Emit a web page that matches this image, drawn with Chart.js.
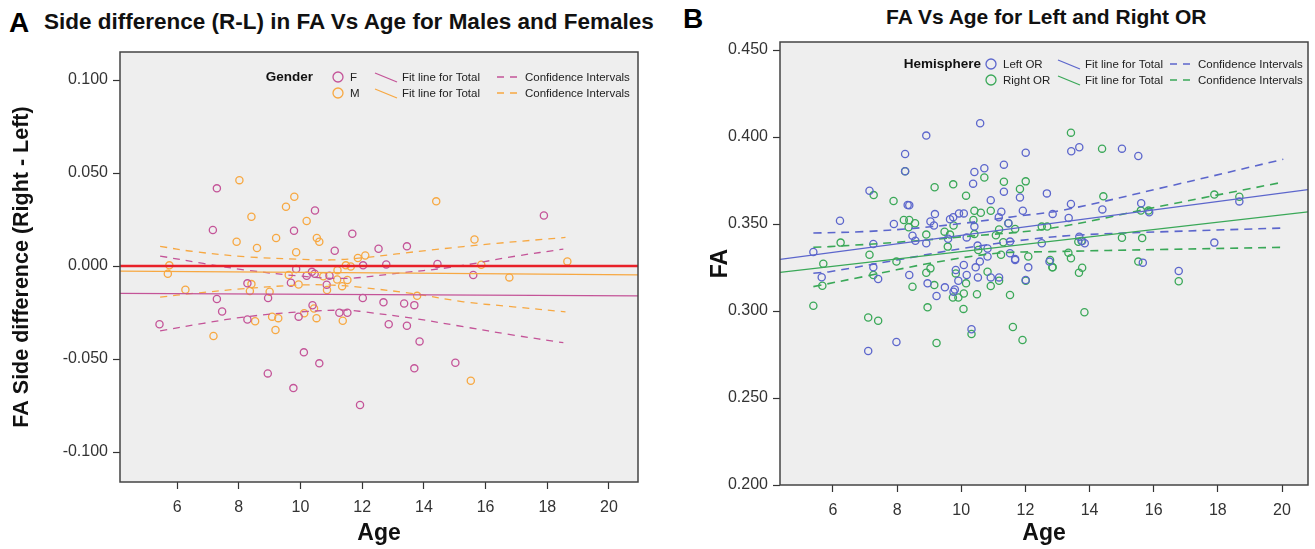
<!DOCTYPE html>
<html>
<head>
<meta charset="utf-8">
<script src="https://cdn.jsdelivr.net/npm/chart.js@4.4.1/dist/chart.umd.min.js"></script>
<style>
  body { margin: 0; width: 1315px; height: 549px; background: #fff; position: relative; overflow: hidden; font-family: Arial, "Liberation Sans", sans-serif; }
  .panel { position: absolute; top: 0; height: 549px; }
  .letter { position: absolute; font-weight: bold; font-size: 28px; color: #000; }
  .ttl { position: absolute; font-weight: bold; color: #111; white-space: nowrap; }
</style>
</head>
<body>
<div class="letter" style="left:9px;top:7px;">A</div>
<div class="ttl" style="left:44px;top:9px;font-size:22.5px;">Side difference (R-L) in FA Vs Age for Males and Females</div>
<div class="letter" style="left:683px;top:3px;">B</div>
<div class="ttl" style="left:886px;top:5px;font-size:21px;">FA Vs Age for Left and Right OR</div>
<div class="panel" style="left:0;width:655px;"><canvas id="chart-side-diff"></canvas></div>
<div class="panel" style="left:655px;width:660px;"><canvas id="chart-fa-age"></canvas></div>
<script>
// tick values
const ageTicks = [6, 8, 10, 12, 14, 16, 18, 20];
const diffTicks = [-0.1, -0.05, 0, 0.05, 0.1];
const faTicks = [0.2, 0.25, 0.3, 0.35, 0.4, 0.45];

// Panel A - females
const femaleAge = [7.29, 7.16, 5.43, 7.29, 7.46, 8.28, 8.28, 8.95, 8.94, 9.79, 9.86, 9.69, 9.77, 9.94, 10.11, 10.20, 10.37, 10.46, 10.39, 10.47, 10.61, 10.85, 10.94, 11.11, 11.26, 11.52, 11.68, 12.03, 12.02, 12.53, 12.78, 12.69, 12.86, 13.36, 13.45, 13.45, 13.69, 13.69, 13.86, 14.44, 15.02, 15.60, 17.89, 11.93];
const femaleDiff = [0.0418, 0.0194, -0.0313, -0.0177, -0.0244, -0.0093, -0.0287, -0.0172, -0.0577, 0.0190, -0.0016, -0.0090, -0.0656, -0.0272, -0.0464, -0.0052, -0.0031, -0.0041, -0.0211, 0.0299, -0.0523, -0.0100, -0.0052, 0.0082, -0.0251, -0.0251, 0.0174, 0.0004, -0.0172, 0.0093, 0.0009, -0.0195, -0.0313, -0.0201, 0.0106, -0.0321, -0.0210, -0.0550, -0.0405, 0.0011, -0.0520, -0.0048, 0.0272, -0.0747];
// Panel A - males
const maleAge = [8.02, 5.75, 5.70, 6.27, 7.18, 7.93, 8.41, 8.59, 8.41, 8.36, 8.53, 9.00, 9.08, 9.19, 9.28, 9.21, 9.53, 9.80, 9.86, 9.62, 9.94, 10.12, 10.20, 10.44, 10.52, 10.53, 10.61, 10.74, 10.86, 11.19, 11.20, 11.35, 11.37, 11.47, 11.52, 11.63, 11.86, 12.10, 13.78, 14.40, 15.52, 15.64, 15.86, 16.77, 18.65];
const maleDiff = [0.0462, 0.0004, -0.0041, -0.0127, -0.0376, 0.0131, 0.0265, 0.0097, -0.0097, -0.0134, -0.0297, -0.0138, -0.0272, -0.0344, -0.0280, 0.0151, 0.0319, 0.0373, 0.0074, -0.0048, -0.0099, -0.0254, 0.0242, -0.0228, -0.0280, 0.0151, 0.0131, -0.0055, -0.0129, -0.0072, -0.0022, -0.0108, -0.0294, 0.0004, -0.0075, -0.0002, 0.0043, 0.0057, -0.0160, 0.0348, -0.0617, 0.0143, 0.0007, -0.0061, 0.0025];

// Panel A fit lines and confidence intervals
const refLineAge = [4.15, 20.94];
const refLineDiff = [0, 0];
const femaleFitDiff = [-0.0147, -0.0160];
const maleFitDiff = [-0.0027, -0.0047];
const femaleCiAge = [5.45, 6.85, 8.26, 10.0, 11.5, 13.12, 14.85, 17.0, 18.52];
const femaleCiUpper = [0.0054, 0.0014, -0.0022, -0.0054, -0.0066, -0.0039, -0.0007, 0.0054, 0.0091];
const femaleCiLowAge = [5.45, 6.85, 8.26, 10.0, 11.5, 12.04, 13.66, 15.28, 16.9, 18.52];
const femaleCiLower = [-0.0349, -0.0308, -0.0272, -0.0246, -0.0237, -0.0246, -0.0281, -0.0326, -0.0371, -0.0412];
const maleCiAge = [5.45, 6.53, 8.26, 10.0, 11.0, 12.04, 14.2, 16.36, 18.59];
const maleCiUpper = [0.0106, 0.0078, 0.0050, 0.0036, 0.0033, 0.0045, 0.0086, 0.0122, 0.0154];
const maleCiLowAge = [5.45, 6.53, 8.26, 10.0, 11.0, 12.0, 13.77, 15.28, 16.9, 18.59];
const maleCiLower = [-0.0167, -0.0147, -0.0120, -0.0102, -0.0102, -0.0115, -0.0151, -0.0192, -0.0219, -0.0246];

// Panel B - left OR
const leftAge = [10.59, 8.91, 8.25, 8.25, 12.01, 10.72, 10.41, 11.33, 7.14, 10.37, 11.33, 11.83, 10.92, 12.67, 8.33, 8.38, 6.22, 7.90, 9.18, 9.65, 9.75, 9.93, 10.08, 9.04, 9.15, 10.41, 11.17, 11.25, 11.47, 11.92, 8.48, 8.57, 7.26, 8.91, 9.59, 10.17, 10.51, 11.52, 10.82, 12.51, 10.82, 11.52, 11.68,
  7.26, 7.41, 8.38, 8.95, 9.23, 9.49, 9.80, 9.76, 9.83, 9.91, 10.08, 10.17, 10.45, 10.52, 10.58, 10.92, 11.18, 11.68, 12.09, 12.01, 12.75, 10.32, 7.98, 7.10,
  13.43, 13.68, 15.01, 15.52, 13.42, 14.40, 15.61, 15.86, 12.85, 13.35, 18.67, 13.68, 13.77, 13.85, 17.89, 15.66, 16.78, 5.39, 5.65];
const leftFA = [0.4079, 0.4008, 0.3902, 0.3803, 0.3910, 0.3820, 0.3799, 0.3841, 0.3691, 0.3732, 0.3686, 0.3653, 0.3637, 0.3676, 0.3609, 0.3608, 0.3519, 0.3500, 0.3557, 0.3527, 0.3539, 0.3561, 0.3561, 0.3514, 0.3491, 0.3485, 0.3539, 0.3571, 0.3504, 0.3576, 0.3433, 0.3404, 0.3385, 0.3389, 0.3415, 0.3423, 0.3376, 0.3399, 0.3359, 0.3389, 0.3313, 0.3332, 0.3299,
  0.3251, 0.3184, 0.3207, 0.3159, 0.3086, 0.3136, 0.3124, 0.3111, 0.3236, 0.3174, 0.3264, 0.3207, 0.3251, 0.3193, 0.3284, 0.3193, 0.3193, 0.3293, 0.3251, 0.3178, 0.3284, 0.2895, 0.2822, 0.2770,
  0.3918, 0.3941, 0.3933, 0.3891, 0.3615, 0.3584, 0.3619, 0.3567, 0.3558, 0.3535, 0.3630, 0.3427, 0.3402, 0.3389, 0.3393, 0.3278, 0.3230, 0.3339, 0.3194];
// Panel B - right OR
const rightAge = [8.25, 7.27, 7.89, 9.17, 9.75, 10.15, 10.72, 11.33, 12.01, 11.83, 8.38, 8.21, 8.56, 8.36, 10.41, 10.61, 10.92, 10.38, 9.76, 11.47, 8.91, 9.48, 9.65, 10.41, 11.08, 11.18, 11.68, 12.51, 12.68, 6.24, 9.58, 10.53, 11.31, 7.14, 11.24, 12.09,
  7.26, 7.98, 8.48, 8.91, 9.04, 9.16, 9.83, 9.74, 9.91, 10.08, 10.15, 10.07, 10.49, 10.82, 10.92, 11.18, 11.52, 12.01, 12.84, 7.10, 7.41, 8.95, 10.32, 9.23, 11.61, 11.91,
  13.42, 14.39, 14.43, 15.60, 15.84, 17.89, 18.67, 15.01, 15.64, 13.65, 13.75, 13.34, 13.42, 12.77, 12.85, 15.52, 13.77, 13.67, 16.78, 13.84, 5.70, 5.67, 5.39];
const rightFA = [0.3803, 0.3666, 0.3632, 0.3711, 0.3728, 0.3663, 0.3767, 0.3743, 0.3745, 0.3701, 0.3523, 0.3523, 0.3504, 0.3481, 0.3576, 0.3565, 0.3576, 0.3523, 0.3491, 0.3504, 0.3439, 0.3456, 0.3439, 0.3442, 0.3435, 0.3469, 0.3471, 0.3485, 0.3485, 0.3393, 0.3370, 0.3351, 0.3395, 0.3323, 0.3323, 0.3313,
  0.3207, 0.3284, 0.3140, 0.3220, 0.3245, 0.3149, 0.3216, 0.3078, 0.3078, 0.3101, 0.3159, 0.3012, 0.3096, 0.3226, 0.3144, 0.3174, 0.3092, 0.3174, 0.3251, 0.2963, 0.2944, 0.3021, 0.2868, 0.2816, 0.2908, 0.2833,
  0.4025, 0.3933, 0.3659, 0.3577, 0.3577, 0.3669, 0.3657, 0.3421, 0.3419, 0.3398, 0.3402, 0.3335, 0.3303, 0.3293, 0.3251, 0.3284, 0.3249, 0.3220, 0.3171, 0.2993, 0.3272, 0.3145, 0.3030];

// Panel B fit lines and confidence intervals
const fitAgeB = [4.35, 20.81];
const leftFitFA = [0.3297, 0.3698];
const rightFitFA = [0.3222, 0.3570];
const leftCiUpAge = [5.39, 6.94, 8.51, 10.06, 11.62, 13.18, 16.4, 20.04];
const leftCiUpper = [0.3448, 0.3456, 0.3475, 0.3504, 0.3542, 0.3580, 0.3714, 0.3872];
const leftCiLowAge = [5.39, 5.9, 7.99, 10.06, 12.14, 13.7, 16.4, 20.04];
const leftCiLower = [0.3217, 0.3226, 0.3293, 0.3360, 0.3412, 0.3437, 0.3456, 0.3477];
const rightCiUpAge = [5.39, 5.9, 8.0, 10.06, 12.77, 16.4, 20.04];
const rightCiUpper = [0.3366, 0.3370, 0.3395, 0.3427, 0.3475, 0.3609, 0.3741];
const rightCiLowAge = [5.39, 6.94, 9.02, 11.1, 12.77, 16.4, 20.04];
const rightCiLower = [0.3140, 0.3197, 0.3274, 0.3332, 0.3341, 0.3354, 0.3366];

const PINK = 'rgb(196, 84, 152)';
const ORANGE = 'rgb(247, 168, 66)';
const RED = 'rgb(232, 32, 40)';
const BLUE = 'rgb(92, 102, 204)';
const GREEN = 'rgb(58, 168, 88)';
const FONT = 'Arial, "Liberation Sans", sans-serif';

function pts(xs, ys) { return xs.map((x, i) => ({ x: x, y: ys[i] })); }

function scatterSet(label, xs, ys, color) {
  return { type: 'scatter', label: label, data: pts(xs, ys), borderColor: color, backgroundColor: 'rgba(0,0,0,0)',
    pointRadius: 3.6, pointBorderWidth: 1.3, pointHoverRadius: 3.6, order: 2 };
}
function lineSet(label, xs, ys, color, width, dash) {
  return { type: 'line', label: label, data: pts(xs, ys), borderColor: color, borderWidth: width, borderDash: dash || [],
    pointRadius: 0, tension: 0.35, fill: false, order: 1 };
}

// grey plot area + frame + inside legend
const plotFrame = {
  id: 'plotFrame',
  beforeDatasetsDraw(chart) {
    const a = chart.chartArea, ctx = chart.ctx;
    ctx.save();
    ctx.fillStyle = '#eeeeee';
    ctx.fillRect(a.left, a.top, a.right - a.left, a.bottom - a.top);
    ctx.restore();
  },
  afterDraw(chart, args, opts) {
    const a = chart.chartArea, ctx = chart.ctx;
    ctx.save();
    ctx.strokeStyle = '#444';
    ctx.lineWidth = 1.5;
    ctx.strokeRect(a.left, a.top, a.right - a.left, a.bottom - a.top);
    const lg = opts.legend;
    if (lg) {
      ctx.textBaseline = 'middle';
      ctx.fillStyle = '#111';
      ctx.font = 'bold 13.5px ' + FONT;
      ctx.textAlign = 'right';
      ctx.fillText(lg.title, lg.titleRight, lg.rows[0]);
      ctx.textAlign = 'left';
      ctx.font = '11.5px ' + FONT;
      lg.rows.forEach((y, i) => {
        const c = lg.colors[i];
        ctx.strokeStyle = c; ctx.lineWidth = 1.3;
        ctx.beginPath(); ctx.arc(lg.circleX, y, 5, 0, Math.PI * 2); ctx.stroke();
        ctx.fillStyle = '#222';
        ctx.fillText(lg.labels[i], lg.circleX + 12, y + 1);
        ctx.beginPath(); ctx.moveTo(lg.fitX, y - 4); ctx.lineTo(lg.fitX + 22, y + 5); ctx.stroke();
        ctx.fillText('Fit line for Total', lg.fitX + 27, y + 1);
        ctx.beginPath(); ctx.moveTo(lg.ciX, y); ctx.lineTo(lg.ciX + 7, y);
        ctx.moveTo(lg.ciX + 13, y); ctx.lineTo(lg.ciX + 20, y); ctx.stroke();
        ctx.fillText('Confidence Intervals', lg.ciX + 28, y + 1);
      });
    }
    ctx.restore();
  }
};

function tickFix(values) {
  return function (scale) { scale.ticks = values.map(v => ({ value: v })); };
}
function fmt3(v) { return (Math.abs(v) < 1e-9 ? 0 : v).toFixed(3); }

function axisX(min, max, height) {
  return {
    type: 'linear', min: min, max: max,
    afterBuildTicks: tickFix(ageTicks),
    afterFit: (s) => { s.height = height; },
    border: { display: false },
    grid: { drawOnChartArea: false, drawTicks: true, tickLength: 7, color: '#333', tickWidth: 1.2 },
    ticks: { color: '#333', font: { family: FONT, size: 16 }, padding: 9, maxRotation: 0 },
    title: { display: true, text: 'Age', color: '#111', font: { family: FONT, size: 23, weight: 'bold' }, padding: { top: 0, bottom: 2 } }
  };
}
function axisY(min, max, values, width, title, titleSize, titlePad) {
  return {
    type: 'linear', min: min, max: max,
    afterBuildTicks: tickFix(values),
    afterFit: (s) => { s.width = width; },
    border: { display: false },
    grid: { drawOnChartArea: false, drawTicks: true, tickLength: 7, color: '#333', tickWidth: 1.2 },
    ticks: { color: '#333', font: { family: FONT, size: 16 }, padding: 5, callback: fmt3 },
    title: { display: true, text: title, color: '#111', font: { family: FONT, size: titleSize, weight: 'bold' }, padding: { top: titlePad, bottom: 0 } }
  };
}

new Chart(document.getElementById('chart-side-diff'), {
  data: {
    datasets: [
      scatterSet('F', femaleAge, femaleDiff, PINK),
      scatterSet('M', maleAge, maleDiff, ORANGE),
      lineSet('Zero', refLineAge, refLineDiff, RED, 2.4),
      lineSet('Fit F', refLineAge, femaleFitDiff, PINK, 1.3),
      lineSet('Fit M', refLineAge, maleFitDiff, ORANGE, 1.3),
      lineSet('CI F upper', femaleCiAge, femaleCiUpper, PINK, 1.3, [7, 6]),
      lineSet('CI F lower', femaleCiLowAge, femaleCiLower, PINK, 1.3, [7, 6]),
      lineSet('CI M upper', maleCiAge, maleCiUpper, ORANGE, 1.3, [7, 6]),
      lineSet('CI M lower', maleCiLowAge, maleCiLower, ORANGE, 1.3, [7, 6])
    ]
  },
  options: {
    responsive: true, maintainAspectRatio: false, animation: false,
    layout: { padding: { top: 52, right: 17, left: 0, bottom: 0 } },
    plugins: {
      legend: { display: false }, tooltip: { enabled: false },
      plotFrame: { legend: { title: 'Gender', titleRight: 313, rows: [77, 93], colors: [PINK, ORANGE], labels: ['F', 'M'], circleX: 338, fitX: 375, ciX: 497 } }
    },
    scales: {
      x: axisX(4.15, 20.94, 67),
      y: axisY(-0.1161, 0.1151, diffTicks, 120, 'FA Side difference (Right - Left)', 21.5, 9)
    }
  },
  plugins: [plotFrame]
});

new Chart(document.getElementById('chart-fa-age'), {
  data: {
    datasets: [
      scatterSet('Left OR', leftAge, leftFA, BLUE),
      scatterSet('Right OR', rightAge, rightFA, GREEN),
      lineSet('Fit L', fitAgeB, leftFitFA, BLUE, 1.3),
      lineSet('Fit R', fitAgeB, rightFitFA, GREEN, 1.3),
      lineSet('CI L upper', leftCiUpAge, leftCiUpper, BLUE, 1.6, [8, 6]),
      lineSet('CI L lower', leftCiLowAge, leftCiLower, BLUE, 1.6, [8, 6]),
      lineSet('CI R upper', rightCiUpAge, rightCiUpper, GREEN, 1.6, [8, 6]),
      lineSet('CI R lower', rightCiLowAge, rightCiLower, GREEN, 1.6, [8, 6])
    ]
  },
  options: {
    responsive: true, maintainAspectRatio: false, animation: false,
    layout: { padding: { top: 42, right: 7, left: 0, bottom: 0 } },
    plugins: {
      legend: { display: false }, tooltip: { enabled: false },
      plotFrame: { legend: { title: 'Hemisphere', titleRight: 981 - 655, rows: [64, 80], colors: [BLUE, GREEN], labels: ['Left OR', 'Right OR'], circleX: 991 - 655, fitX: 1058 - 655, ciX: 1170 - 655 } }
    },
    scales: {
      x: axisX(4.35, 20.81, 64),
      y: axisY(0.2, 0.4546, faTicks, 125, 'FA', 23, 52)
    }
  },
  plugins: [plotFrame]
});
</script>
</body>
</html>
